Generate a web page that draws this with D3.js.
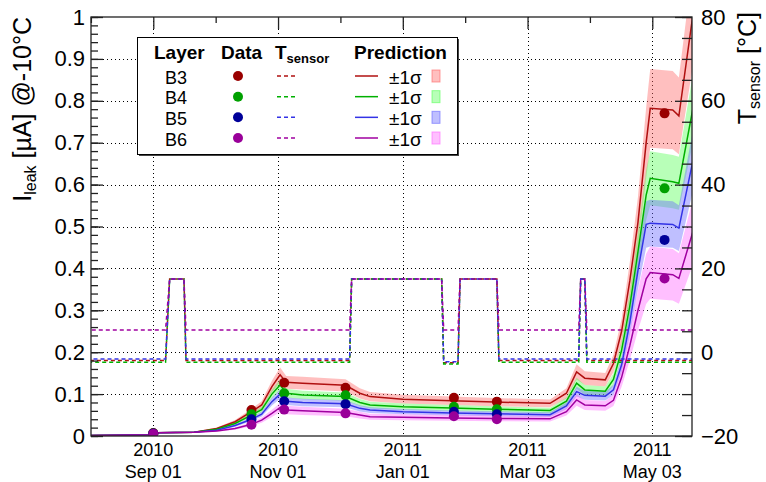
<!DOCTYPE html>
<html>
<head>
<meta charset="utf-8">
<script src="https://cdn.jsdelivr.net/npm/d3@7"></script>
<style>
  body { margin: 0; background: #fff; }
  text { font-family: "Liberation Sans", Arial, sans-serif; fill: #000; }
</style>
</head>
<body>
<script>
// layers
var layers = ["B3", "B4", "B5", "B6"];

// prediction curves (I_leak in uA, normalised to -10C)
var predDates = ["2010-08-01","2010-09-01","2010-09-03","2010-09-21","2010-10-02","2010-10-11","2010-10-19",
  "2010-10-24","2010-10-29","2010-11-02","2010-11-05","2010-11-13","2010-12-04","2010-12-11","2010-12-16",
  "2011-01-01","2011-01-25","2011-02-15","2011-03-14","2011-03-22","2011-03-27","2011-03-31","2011-04-10",
  "2011-04-14","2011-04-18","2011-04-22","2011-04-26","2011-04-30","2011-05-02","2011-05-13","2011-05-16","2011-05-23"];
var predB3 = [0.001,0.003,0.008,0.009,0.018,0.034,0.058,0.074,0.118,0.146,0.128,0.126,0.121,0.102,0.094,0.088,
  0.084,0.081,0.078,0.102,0.153,0.138,0.134,0.173,0.25,0.37,0.51,0.70,0.782,0.778,0.764,1.01];
var predB4 = [0.001,0.003,0.008,0.009,0.016,0.03,0.05,0.063,0.1,0.122,0.102,0.098,0.094,0.08,0.074,0.07,
  0.067,0.064,0.061,0.083,0.126,0.11,0.107,0.135,0.205,0.31,0.44,0.575,0.615,0.607,0.603,0.785];
var predB5 = [0.001,0.003,0.008,0.009,0.014,0.025,0.04,0.052,0.082,0.1,0.083,0.08,0.077,0.066,0.062,0.058,
  0.055,0.053,0.051,0.072,0.106,0.097,0.095,0.11,0.17,0.27,0.395,0.505,0.508,0.505,0.496,0.66];
var predB6 = [0.001,0.003,0.008,0.009,0.012,0.018,0.028,0.038,0.054,0.068,0.062,0.06,0.056,0.05,0.046,0.045,
  0.043,0.042,0.041,0.058,0.086,0.074,0.072,0.085,0.14,0.215,0.30,0.375,0.39,0.385,0.376,0.49];
// relative 1 sigma width of the prediction band, per layer
var sigmaRel = [0.12, 0.105, 0.11, 0.16];

// measured points
var dataDates = ["2010-09-01","2010-10-19","2010-11-04","2010-12-04","2011-01-26","2011-02-16","2011-05-09"];
var dataB3 = [0.007,0.062,0.127,0.115,0.091,0.082,0.77];
var dataB4 = [0.006,0.052,0.102,0.097,0.07,0.064,0.591];
var dataB5 = [0.006,0.04,0.083,0.076,0.058,0.052,0.468];
var dataB6 = [0.005,0.027,0.063,0.054,0.047,0.04,0.376];

// sensor temperature (C, right axis)
var tempDates = ["2010-08-01","2010-09-07","2010-09-09","2010-09-16","2010-09-17","2010-12-06","2010-12-07",
  "2011-01-20","2011-01-21","2011-01-28","2011-01-29","2011-02-16","2011-02-17","2011-03-28","2011-03-29",
  "2011-03-31","2011-04-01","2011-05-23"];
var tempB3 = [-2.0,-2.0,17.5,17.5,-2.0,-2.0,17.5,17.5,-2.5,-2.5,17.5,17.5,-2.0,-2.0,17.5,17.5,-2.0,-2.0];
var tempB4 = [-2.4,-2.4,17.5,17.5,-2.4,-2.4,17.5,17.5,-2.8,-2.8,17.5,17.5,-2.4,-2.4,17.5,17.5,-2.4,-2.4];
var tempB5 = [-1.6,-1.6,17.5,17.5,-1.6,-1.6,17.5,17.5,-2.3,-2.3,17.5,17.5,-1.6,-1.6,17.5,17.5,-1.6,-1.6];
var tempB6 = [5.3,5.3,17.5,17.5,5.3,5.3,17.5,17.5,5.3,5.3,17.5,17.5,5.3,5.3,17.5,17.5,5.3,5.3];

// axis ticks
var timeTicks = ["2010-09-01","2010-11-01","2011-01-01","2011-03-03","2011-05-03"];
var leftTicks = [0,0.1,0.2,0.3,0.4,0.5,0.6,0.7,0.8,0.9,1];
var rightTicks = [-20,0,20,40,60,80];

var lineCol = ["#b01010", "#00b000", "#3333e6", "#a000a0"];
var markCol = ["#990000", "#00a000", "#000099", "#990099"];
var bandCol = ["#ff6666", "#55ff55", "#6666ff", "#ff66ff"];

var width = 766, height = 482;
var pLeft = 91, pRight = 692, pTop = 17, pBottom = 436;

var parse = d3.utcParse("%Y-%m-%d");

var x = d3.scaleUtc()
  .domain([new Date(Date.UTC(2010, 7, 1, 13)), new Date(Date.UTC(2011, 4, 22, 10))])
  .range([pLeft, pRight]);
var yL = d3.scaleLinear().domain([0, 1]).range([pBottom, pTop]);
var yR = d3.scaleLinear().domain([-20, 80]).range([pBottom, pTop]);

var svg = d3.select("body").append("svg")
  .attr("width", width)
  .attr("height", height);
svg.append("rect").attr("width", width).attr("height", height).attr("fill", "#fff");

svg.append("clipPath").attr("id", "plot")
  .append("rect").attr("x", pLeft).attr("y", pTop).attr("width", pRight - pLeft).attr("height", pBottom - pTop);

// grid
var grid = svg.append("g").attr("stroke", "#000").attr("stroke-width", 1).attr("stroke-dasharray", "1,3");
grid.selectAll(".gx").data(timeTicks).enter().append("line")
  .attr("x1", function(d) { return Math.round(x(parse(d))) + 0.5; })
  .attr("x2", function(d) { return Math.round(x(parse(d))) + 0.5; })
  .attr("y1", pTop).attr("y2", pBottom);
grid.selectAll(".gy").data(leftTicks.slice(1, -1)).enter().append("line")
  .attr("y1", function(d) { return Math.round(yL(d)) + 0.5; })
  .attr("y2", function(d) { return Math.round(yL(d)) + 0.5; })
  .attr("x1", pLeft).attr("x2", pRight);

var plot = svg.append("g").attr("clip-path", "url(#plot)");

var preds = [predB3, predB4, predB5, predB6];
var datas = [dataB3, dataB4, dataB5, dataB6];
var temps = [tempB3, tempB4, tempB5, tempB6];

// bands
preds.forEach(function(p, i) {
  var pts = predDates.map(function(d, j) { return {t: parse(d), v: p[j]}; });
  var area = d3.area()
    .x(function(d) { return x(d.t); })
    .y0(function(d) { return yL(d.v * (1 - sigmaRel[i])); })
    .y1(function(d) { return yL(d.v * (1 + sigmaRel[i])); });
  plot.append("path").datum(pts)
    .attr("d", area)
    .attr("fill", bandCol[i])
    .attr("fill-opacity", 0.42);
});

// temperature lines
temps.forEach(function(tv, i) {
  var pts = tempDates.map(function(d, j) { return {t: parse(d), v: tv[j]}; });
  var line = d3.line().x(function(d) { return x(d.t); }).y(function(d) { return yR(d.v); });
  plot.append("path").datum(pts)
    .attr("d", line)
    .attr("fill", "none")
    .attr("stroke", lineCol[i])
    .attr("stroke-width", 1.5)
    .attr("stroke-dasharray", "4,3")
    .attr("stroke-dashoffset", i * 1.7);
});

// prediction lines
preds.forEach(function(p, i) {
  var pts = predDates.map(function(d, j) { return {t: parse(d), v: p[j]}; });
  var line = d3.line().x(function(d) { return x(d.t); }).y(function(d) { return yL(d.v); });
  plot.append("path").datum(pts)
    .attr("d", line)
    .attr("fill", "none")
    .attr("stroke", lineCol[i])
    .attr("stroke-width", 1.5);
});

// data points
datas.forEach(function(dv, i) {
  plot.selectAll(".pt" + i).data(dataDates).enter().append("circle")
    .attr("cx", function(d) { return x(parse(d)); })
    .attr("cy", function(d, j) { return yL(dv[j]); })
    .attr("r", 5)
    .attr("fill", markCol[i]);
});

// frame
svg.append("rect")
  .attr("x", pLeft).attr("y", pTop).attr("width", pRight - pLeft).attr("height", pBottom - pTop)
  .attr("fill", "none").attr("stroke", "#222").attr("stroke-width", 1.3);

// left axis
var minorL = d3.range(0, 51).map(function(k) { return k / 50; });
svg.append("g").attr("transform", "translate(" + pLeft + ",0)")
  .call(d3.axisLeft(yL).tickValues(minorL).tickSize(-7).tickFormat(""))
  .call(function(g) { g.select(".domain").remove(); });
var axL = svg.append("g").attr("transform", "translate(" + pLeft + ",0)")
  .call(d3.axisLeft(yL).tickValues(leftTicks).tickSize(-12).tickPadding(6)
    .tickFormat(function(d) { return d3.format(".1f")(d).replace(/\.0$/, ""); }));
axL.select(".domain").remove();
axL.selectAll("text").style("font-size", "22px").style("font-family", "Liberation Sans, Arial, sans-serif");

// right axis
var minorR = d3.range(-20, 81, 5);
svg.append("g").attr("transform", "translate(" + pRight + ",0)")
  .call(d3.axisRight(yR).tickValues(minorR).tickSize(-10).tickFormat(""))
  .call(function(g) { g.select(".domain").remove(); });
var axR = svg.append("g").attr("transform", "translate(" + pRight + ",0)")
  .call(d3.axisRight(yR).tickValues(rightTicks).tickSize(-17).tickPadding(9));
axR.select(".domain").remove();
axR.selectAll("text").style("font-size", "22px").style("font-family", "Liberation Sans, Arial, sans-serif");

svg.selectAll(".tick line").attr("stroke", "#222").attr("stroke-width", 1.3);

// top ticks
var topMajor = timeTicks.map(parse);
var topMinor = topMajor.map(function(d) { return new Date(+d - 30.5 * 864e5); });
svg.append("g").attr("transform", "translate(0," + pTop + ")")
  .call(d3.axisTop(x).tickValues(topMinor).tickSize(-6).tickFormat(""))
  .call(function(g) { g.select(".domain").remove(); g.selectAll("line").attr("stroke", "#222").attr("stroke-width", 1.3); });
svg.append("g").attr("transform", "translate(0," + pTop + ")")
  .call(d3.axisTop(x).tickValues(topMajor).tickSize(-12).tickFormat(""))
  .call(function(g) { g.select(".domain").remove(); g.selectAll("line").attr("stroke", "#222").attr("stroke-width", 1.3); });

// bottom labels (two lines)
var fmtYear = d3.utcFormat("%Y"), fmtDay = d3.utcFormat("%b %d");
var xl = svg.append("g");
timeTicks.forEach(function(d) {
  var t = parse(d);
  xl.append("text").attr("x", x(t)).attr("y", 456).attr("text-anchor", "middle")
    .style("font-size", "18px").text(fmtYear(t));
  xl.append("text").attr("x", x(t)).attr("y", 478).attr("text-anchor", "middle")
    .style("font-size", "18px").text(fmtDay(t));
});

// axis titles
var tl = svg.append("text")
  .attr("transform", "translate(31," + pTop + ") rotate(-90)")
  .attr("text-anchor", "end")
  .style("font-size", "25px");
tl.append("tspan").text("I");
tl.append("tspan").attr("dy", 5).style("font-size", "16px").text("leak");
tl.append("tspan").attr("dy", -5).text(" [\u00b5A] @-10\u00b0C");

var tr = svg.append("text")
  .attr("transform", "translate(756,12) rotate(-90)")
  .attr("text-anchor", "end")
  .style("font-size", "25px");
tr.append("tspan").text("T");
tr.append("tspan").attr("dy", 4).style("font-size", "16px").text("sensor");
tr.append("tspan").attr("dy", -4).text(" [\u00b0C]");

// legend
var lg = svg.append("g");
lg.append("rect").attr("x", 139).attr("y", 39).attr("width", 320).attr("height", 117).attr("fill", "#444");
lg.append("rect").attr("x", 137.5).attr("y", 37.5).attr("width", 320).attr("height", 117)
  .attr("fill", "#fff").attr("stroke", "#000").attr("stroke-width", 1);

var hdr = [["Layer", 154], ["Data", 221], ["Prediction", 354]];
hdr.forEach(function(h) {
  lg.append("text").attr("x", h[1]).attr("y", 59).style("font-size", "19px").style("font-weight", "bold").text(h[0]);
});
var th = lg.append("text").attr("x", 275).attr("y", 59).style("font-size", "19px").style("font-weight", "bold");
th.append("tspan").text("T");
th.append("tspan").attr("dy", 4).style("font-size", "13px").text("sensor");

var rowY = d3.scaleLinear().domain([0, 3]).range([77, 139]);
layers.forEach(function(name, i) {
  var cy = rowY(i);
  lg.append("text").attr("x", 165).attr("y", cy + 6.5).style("font-size", "18px").text(name);
  lg.append("circle").attr("cx", 238).attr("cy", cy - 1).attr("r", 5).attr("fill", markCol[i]);
  lg.append("line").attr("x1", 277).attr("x2", 296).attr("y1", cy - 1).attr("y2", cy - 1)
    .attr("stroke", lineCol[i]).attr("stroke-width", 1.5).attr("stroke-dasharray", "4,3");
  lg.append("line").attr("x1", 355).attr("x2", 378).attr("y1", cy - 1).attr("y2", cy - 1)
    .attr("stroke", lineCol[i]).attr("stroke-width", 1.5);
  lg.append("text").attr("x", 389).attr("y", cy + 6.5).style("font-size", "19px").text("\u00b11\u03c3");
  lg.append("rect").attr("x", 432).attr("y", cy - 7).attr("width", 8).attr("height", 12)
    .attr("fill", bandCol[i]).attr("fill-opacity", 0.42).attr("stroke", bandCol[i]).attr("stroke-opacity", 0.6);
});
</script>
</body>
</html>
